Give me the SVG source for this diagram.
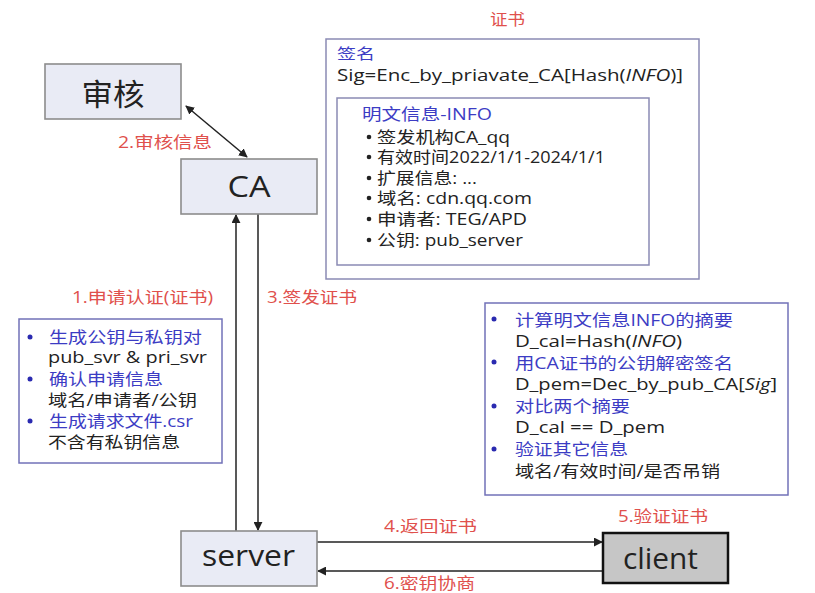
<svg xmlns="http://www.w3.org/2000/svg" width="815" height="593" viewBox="0 0 815 593">
<defs>
<marker id="ah" viewBox="0 0 10 10" refX="9" refY="5" markerWidth="9" markerHeight="9" markerUnits="userSpaceOnUse" orient="auto-start-reverse">
<path d="M0,0 L10,5 L0,10 z" fill="#222"/>
</marker>
<style>
text{font-family:"Open Sans","Noto Sans CJK SC",sans-serif;}
.node{fill:#e9ebf5;stroke:#8c8c8c;stroke-width:1.6;}
.big{font-size:30px;fill:#222;text-anchor:middle;}
.lbl{font-size:16px;fill:#e0504c;}
.t{font-size:16px;fill:#222;}
.b{font-size:16px;fill:#3c3cc4;}
.box{fill:#fff;stroke:#7272b8;stroke-width:1.5;}
.cert{fill:#fff;stroke:#8a8ab4;stroke-width:1.5;}
.dot{fill:#2a2ab0;}
.kd{fill:#222;}
.ln{stroke:#222;stroke-width:1.5;fill:none;}
</style>
</defs>
<rect width="815" height="593" fill="#fff"/>

<g id="connectors">
<line class="ln" x1="186" y1="106" x2="247" y2="157" marker-start="url(#ah)" marker-end="url(#ah)"/>
<line class="ln" x1="236" y1="531" x2="236" y2="215" marker-end="url(#ah)"/>
<line class="ln" x1="258" y1="214" x2="258" y2="530" marker-end="url(#ah)"/>
<line class="ln" x1="317" y1="542" x2="602" y2="542" marker-end="url(#ah)"/>
<line class="ln" x1="603" y1="571" x2="318" y2="571" marker-end="url(#ah)"/>
<text class="lbl" x="118" y="148" textLength="94" lengthAdjust="spacingAndGlyphs">2.审核信息</text>
<text class="lbl" x="72" y="303" textLength="141" lengthAdjust="spacingAndGlyphs">1.申请认证(证书)</text>
<text class="lbl" x="267" y="303" textLength="90" lengthAdjust="spacingAndGlyphs">3.签发证书</text>
<text class="lbl" x="384" y="532" textLength="93" lengthAdjust="spacingAndGlyphs">4.返回证书</text>
<text class="lbl" x="384" y="589" textLength="91" lengthAdjust="spacingAndGlyphs">6.密钥协商</text>
<text class="lbl" x="618" y="522" textLength="90" lengthAdjust="spacingAndGlyphs">5.验证证书</text>
</g>

<g id="audit">
<rect class="node" x="45" y="64" width="136" height="55"/>
<text class="big" x="113" y="105" textLength="63" lengthAdjust="spacingAndGlyphs">审核</text>
</g>

<g id="ca">
<rect class="node" x="181" y="159" width="136" height="55"/>
<text class="big" x="249" y="197" textLength="43" lengthAdjust="spacingAndGlyphs">CA</text>
</g>

<g id="server">
<rect class="node" x="181" y="531" width="136" height="55"/>
<text class="big" x="248.5" y="566" textLength="93" lengthAdjust="spacingAndGlyphs">server</text>
</g>

<g id="client">
<rect x="603" y="533" width="125" height="50" fill="#c6c6c6" stroke="#111" stroke-width="2.5"/>
<text class="big" x="660.5" y="569" textLength="75" lengthAdjust="spacingAndGlyphs">client</text>
</g>

<g id="certificate">
<text class="lbl" x="490" y="25" textLength="35" lengthAdjust="spacingAndGlyphs">证书</text>
<rect class="cert" x="326" y="39" width="373" height="240"/>
<text class="b" x="337" y="59" font-size="15" textLength="38" lengthAdjust="spacingAndGlyphs" style="font-size:15px">签名</text>
<text class="t" x="337" y="81" textLength="346" lengthAdjust="spacingAndGlyphs">Sig=Enc_by_priavate_CA[Hash(<tspan font-style="italic">INFO</tspan>)]</text>
<rect class="cert" x="337" y="98" width="312" height="167"/>
<text class="b" x="362" y="120" textLength="130" lengthAdjust="spacingAndGlyphs">明文信息-INFO</text>
<circle class="kd" cx="369" cy="137" r="2.3"/>
<text class="t" x="377" y="143" textLength="133" lengthAdjust="spacingAndGlyphs">签发机构CA_qq</text>
<circle class="kd" cx="369" cy="157" r="2.3"/>
<text class="t" x="377" y="163" textLength="228" lengthAdjust="spacingAndGlyphs">有效时间2022/1/1-2024/1/1</text>
<circle class="kd" cx="369" cy="178" r="2.3"/>
<text class="t" x="377" y="184" textLength="100" lengthAdjust="spacingAndGlyphs">扩展信息: ...</text>
<circle class="kd" cx="369" cy="198" r="2.3"/>
<text class="t" x="377" y="204" textLength="155" lengthAdjust="spacingAndGlyphs">域名: cdn.qq.com</text>
<circle class="kd" cx="369" cy="219" r="2.3"/>
<text class="t" x="377" y="225" textLength="150" lengthAdjust="spacingAndGlyphs">申请者: TEG/APD</text>
<circle class="kd" cx="369" cy="240" r="2.3"/>
<text class="t" x="377" y="246" textLength="146" lengthAdjust="spacingAndGlyphs">公钥: pub_server</text>
</g>

<g id="apply-steps">
<rect class="box" x="19" y="319" width="203" height="144"/>
<circle class="dot" cx="30" cy="337" r="2.5"/>
<text class="b" x="49" y="343" textLength="153" lengthAdjust="spacingAndGlyphs">生成公钥与私钥对</text>
<text class="t" x="48" y="363" textLength="159" lengthAdjust="spacingAndGlyphs">pub_svr &amp; pri_svr</text>
<circle class="dot" cx="30" cy="379" r="2.5"/>
<text class="b" x="49" y="385" textLength="114" lengthAdjust="spacingAndGlyphs">确认申请信息</text>
<text class="t" x="48" y="406" textLength="149" lengthAdjust="spacingAndGlyphs">域名/申请者/公钥</text>
<circle class="dot" cx="30" cy="421" r="2.5"/>
<text class="b" x="49" y="427" textLength="144" lengthAdjust="spacingAndGlyphs">生成请求文件.csr</text>
<text class="t" x="48" y="448" textLength="132" lengthAdjust="spacingAndGlyphs">不含有私钥信息</text>
</g>

<g id="verify-steps">
<rect class="box" x="485" y="303" width="303" height="192"/>
<circle class="dot" cx="494" cy="319" r="2.5"/>
<text class="b" x="515" y="326" textLength="218" lengthAdjust="spacingAndGlyphs">计算明文信息INFO的摘要</text>
<text class="t" x="515" y="347" textLength="167" lengthAdjust="spacingAndGlyphs">D_cal=Hash(<tspan font-style="italic">INFO</tspan>)</text>
<circle class="dot" cx="494" cy="362" r="2.5"/>
<text class="b" x="515" y="369" textLength="218" lengthAdjust="spacingAndGlyphs">用CA证书的公钥解密签名</text>
<text class="t" x="515" y="390" textLength="262" lengthAdjust="spacingAndGlyphs">D_pem=Dec_by_pub_CA[<tspan font-style="italic">Sig</tspan>]</text>
<circle class="dot" cx="494" cy="406" r="2.5"/>
<text class="b" x="515" y="412" textLength="115" lengthAdjust="spacingAndGlyphs">对比两个摘要</text>
<text class="t" x="515" y="433" textLength="150" lengthAdjust="spacingAndGlyphs">D_cal == D_pem</text>
<circle class="dot" cx="494" cy="449" r="2.5"/>
<text class="b" x="515" y="455" textLength="113" lengthAdjust="spacingAndGlyphs">验证其它信息</text>
<text class="t" x="515" y="477" textLength="205" lengthAdjust="spacingAndGlyphs">域名/有效时间/是否吊销</text>
</g>
</svg>
